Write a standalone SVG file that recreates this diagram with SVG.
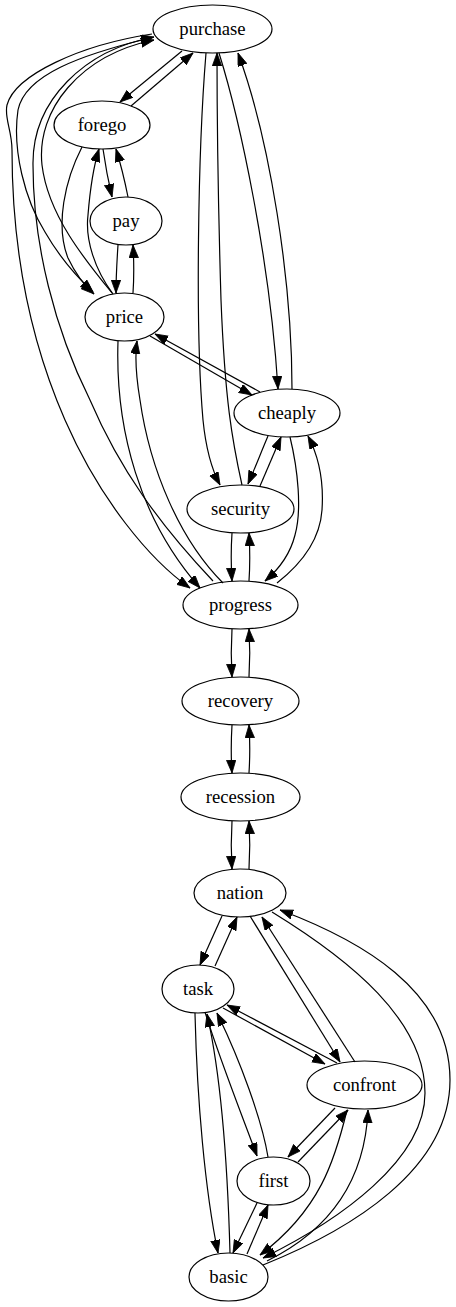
<svg xmlns="http://www.w3.org/2000/svg" width="456" height="1307" viewBox="0 0 456 1307">
<style>
.n ellipse{fill:none;stroke:#000;stroke-width:1.2}
.n text{font-family:"Liberation Serif","Times New Roman",serif;font-size:18.67px;text-anchor:middle;fill:#000}
#edges path{fill:none;stroke:#000;stroke-width:1.2;marker-end:url(#ah)}
</style>
<defs>
<marker id="ah" markerUnits="userSpaceOnUse" markerWidth="14" markerHeight="10" refX="13" refY="4.7" orient="auto">
<path d="M0,0 L13,4.7 L0,9.4 z" fill="#000" stroke="#000" stroke-width="0.8"/>
</marker>
</defs>
<rect width="456" height="1307" fill="#fff"/>
<g id="edges">
<path d="M182,51 L120,102"/>
<path d="M131,106 L193,53"/>
<path d="M103,149 C105,163 108,180 112,197"/>
<path d="M128,197 C125,182 121,165 116,149"/>
<path d="M118,245 C117,260 116,276 116,293"/>
<path d="M133,293 C134,278 134,262 133,245"/>
<path d="M82,147 C65,180 55,225 68,258 C76,275 84,285 94,294"/>
<path d="M113,294 C95,270 85,240 88,215 C90,190 94,165 99,149"/>
<path d="M150,38 C80,55 25,75 18,110 C12,150 25,200 45,232 C60,258 78,278 93,292"/>
<path d="M112,293 C85,260 48,215 42,165 C36,110 80,55 154,40"/>
<path d="M152,34 C80,45 15,75 7,105 C4,118 12,130 12,150 C12,250 30,340 65,420 C100,500 150,560 190,588"/>
<path d="M213,581 C160,525 120,470 90,400 C55,330 33,245 33,165 C32,100 85,50 154,37"/>
<path d="M118,341 C115,430 140,520 200,588"/>
<path d="M223,583 C180,540 150,470 140,400 C135,370 135,355 137,341"/>
<path d="M206,53 C198,150 195,330 203,420 C206,450 212,470 220,485"/>
<path d="M242,485 C232,440 225,400 221,300 C218,200 217,120 217,53"/>
<path d="M219,53 C240,120 270,260 278,389"/>
<path d="M292,389 C292,280 270,140 238,53"/>
<path d="M150,336 L252,395"/>
<path d="M260,392 L155,334"/>
<path d="M268,436 C262,450 255,468 248,484"/>
<path d="M260,486 C267,470 274,453 281,437"/>
<path d="M290,437 C298,470 302,510 295,535 C290,555 278,570 265,581"/>
<path d="M277,583 C300,565 320,540 322,510 C324,480 318,455 308,436"/>
<path d="M232,533 C231,548 231,565 232,581"/>
<path d="M249,581 C250,566 250,550 249,533"/>
<path d="M232,629 C231,645 231,660 232,677"/>
<path d="M249,677 C250,661 250,645 249,629"/>
<path d="M232,725 C231,741 231,757 232,773"/>
<path d="M249,773 C250,757 250,741 249,725"/>
<path d="M232,821 C231,837 231,853 232,869"/>
<path d="M249,869 C250,853 250,837 249,821"/>
<path d="M222,916 L200,965"/>
<path d="M215,966 L237,917"/>
<path d="M250,916 L340,1062"/>
<path d="M355,1062 L262,917"/>
<path d="M272,912 C350,960 425,1020 425,1093 C425,1160 340,1220 263,1258"/>
<path d="M263,1265 C350,1230 450,1170 450,1080 C450,990 360,940 280,910"/>
<path d="M223,1008 L325,1064"/>
<path d="M337,1063 L227,1005"/>
<path d="M205,1012 C220,1060 240,1110 257,1156"/>
<path d="M268,1157 C262,1120 240,1060 217,1013"/>
<path d="M195,1013 C197,1100 205,1190 218,1253"/>
<path d="M230,1253 C228,1180 222,1080 207,1014"/>
<path d="M335,1108 L288,1157"/>
<path d="M298,1162 L348,1110"/>
<path d="M347,1110 C335,1160 320,1210 260,1255"/>
<path d="M267,1261 C330,1230 365,1180 368,1110"/>
<path d="M257,1203 L233,1253"/>
<path d="M247,1254 L268,1205"/>
</g>
<g id="purchase" class="n"><ellipse cx="212.5" cy="29" rx="59.5" ry="24"/><text x="212.5" y="35">purchase</text></g>
<g id="forego" class="n"><ellipse cx="102" cy="125" rx="48" ry="24"/><text x="102" y="131">forego</text></g>
<g id="pay" class="n"><ellipse cx="126" cy="221" rx="36" ry="24"/><text x="126" y="227">pay</text></g>
<g id="price" class="n"><ellipse cx="124.5" cy="317" rx="39.5" ry="24"/><text x="124.5" y="323">price</text></g>
<g id="cheaply" class="n"><ellipse cx="287" cy="413" rx="53" ry="24"/><text x="287" y="419">cheaply</text></g>
<g id="security" class="n"><ellipse cx="240.5" cy="509" rx="53.5" ry="24"/><text x="240.5" y="515">security</text></g>
<g id="progress" class="n"><ellipse cx="240.5" cy="605" rx="57.5" ry="24"/><text x="240.5" y="611">progress</text></g>
<g id="recovery" class="n"><ellipse cx="240.5" cy="701" rx="58.5" ry="24"/><text x="240.5" y="707">recovery</text></g>
<g id="recession" class="n"><ellipse cx="240.5" cy="797" rx="59.5" ry="24"/><text x="240.5" y="803">recession</text></g>
<g id="nation" class="n"><ellipse cx="240" cy="893" rx="46" ry="24"/><text x="240" y="899">nation</text></g>
<g id="task" class="n"><ellipse cx="198" cy="989" rx="36" ry="24"/><text x="198" y="995">task</text></g>
<g id="confront" class="n"><ellipse cx="364.5" cy="1085" rx="57.5" ry="24"/><text x="364.5" y="1091">confront</text></g>
<g id="first" class="n"><ellipse cx="273.5" cy="1181" rx="36.5" ry="24"/><text x="273.5" y="1187">first</text></g>
<g id="basic" class="n"><ellipse cx="228.5" cy="1277" rx="39.5" ry="24"/><text x="228.5" y="1283">basic</text></g>
</svg>
